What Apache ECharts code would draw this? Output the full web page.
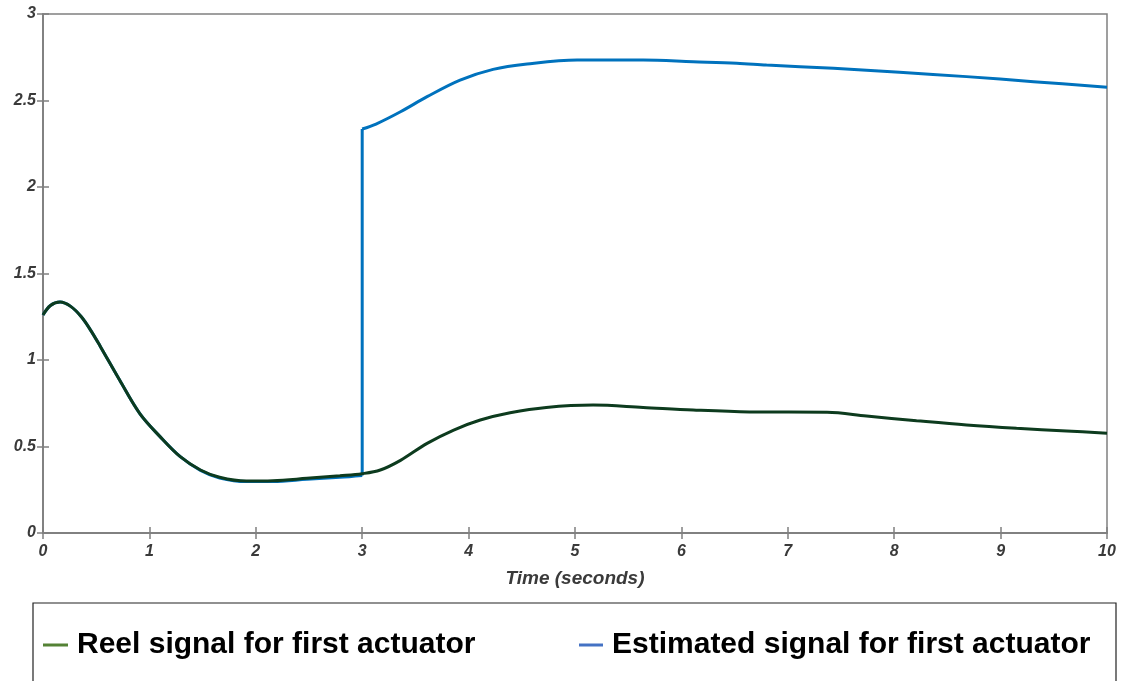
<!DOCTYPE html>
<html>
<head>
<meta charset="utf-8">
<script src="https://cdn.jsdelivr.net/npm/echarts@6/dist/echarts.min.js"></script>
<style>
html,body{margin:0;padding:0;background:#fff;}
#chart{width:1129px;height:681px;}
</style>
</head>
<body>
<div id="chart"></div>
<script>
var xTickLabels = ['0','1','2','3','4','5','6','7','8','9','10'];
var yTickLabels = ['0','0.5','1','1.5','2','2.5','3'];
var xAxisTitle = 'Time (seconds)';
var realName = 'Reel signal for first actuator';
var estName = 'Estimated signal for first actuator';

var realTime = [0, 0.07, 0.16, 0.26, 0.36, 0.45, 0.54, 0.72, 0.91, 1.10, 1.29, 1.48, 1.66, 1.91, 2.16, 2.48, 2.79, 3.0, 3.17, 3.36, 3.61, 3.86, 4.11, 4.39, 4.73, 5.17, 5.64, 6.11, 6.64, 7.37, 7.74, 8.21, 8.68, 9.15, 9.62, 10];
var realValues = [1.26, 1.315, 1.335, 1.31, 1.25, 1.17, 1.077, 0.884, 0.69, 0.557, 0.441, 0.364, 0.322, 0.30, 0.302, 0.316, 0.331, 0.343, 0.364, 0.42, 0.518, 0.595, 0.653, 0.695, 0.726, 0.74, 0.726, 0.711, 0.70, 0.698, 0.676, 0.649, 0.624, 0.605, 0.59, 0.576];

// estimated signal: before the jump, the jump itself, after the jump
var estTimeBefore = [0, 0.07, 0.16, 0.26, 0.36, 0.45, 0.54, 0.72, 0.91, 1.10, 1.29, 1.48, 1.66, 1.91, 2.16, 2.48, 2.79, 3.0];
var estValuesBefore = [1.26, 1.315, 1.335, 1.31, 1.25, 1.17, 1.077, 0.884, 0.69, 0.557, 0.441, 0.362, 0.318, 0.297, 0.298, 0.31, 0.322, 0.333];
var estTimeJump = [3.0, 3.0];
var estValuesJump = [0.333, 2.335];
var estTimeAfter = [3.0, 3.13, 3.36, 3.61, 3.92, 4.23, 4.55, 5.02, 5.64, 6.11, 6.52, 6.80, 7.43, 8.05, 8.68, 9.31, 10];
var estValuesAfter = [2.335, 2.364, 2.435, 2.522, 2.618, 2.68, 2.711, 2.734, 2.734, 2.724, 2.715, 2.705, 2.686, 2.663, 2.638, 2.609, 2.576];

function zip(a, b) { return a.map(function (v, i) { return [v, b[i]]; }); }

var tickFont = {fontFamily: 'Liberation Sans, Arial, sans-serif', fontWeight: 'bold', fontStyle: 'italic', fontSize: 16, color: '#3a3a3a'};
var axisCommon = {
  type: 'value', min: 0,
  axisLine: {show: true, lineStyle: {color: '#808080', width: 1.5}},
  axisTick: {show: true, inside: true, length: 6, lineStyle: {color: '#808080', width: 1.5}},
  splitLine: {show: false}
};
var estLine = {color: '#0072BD', width: 3};
var realLine = {color: '#0d3b1e', width: 3};
var legendText = {fontFamily: 'Liberation Sans, Arial, sans-serif', fontWeight: 'bold', fontSize: 30, color: '#000', padding: [0, 0, 0, 4]};

var chart = echarts.init(document.getElementById('chart'));
chart.setOption({
  animation: false,
  backgroundColor: '#ffffff',
  grid: {left: 43, right: 22, top: 14, bottom: 148, show: true, borderColor: '#808080', borderWidth: 1.5},
  xAxis: [
    Object.assign({}, axisCommon, {position: 'bottom', max: 10, interval: 1,
      name: xAxisTitle, nameLocation: 'middle', nameGap: 36,
      nameTextStyle: {fontFamily: 'Liberation Sans, Arial, sans-serif', fontWeight: 'bold', fontStyle: 'italic', fontSize: 19, color: '#3a3a3a'},
      axisLabel: Object.assign({margin: 11, formatter: function (v) { return xTickLabels[Math.round(v)]; }}, tickFont)}),
    Object.assign({}, axisCommon, {position: 'top', max: 10, interval: 1, axisLabel: {show: false}})
  ],
  yAxis: [
    Object.assign({}, axisCommon, {position: 'left', max: 3, interval: 0.5,
      axisLabel: Object.assign({margin: 7, formatter: function (v) { return yTickLabels[Math.round(v * 2)]; }}, tickFont)}),
    Object.assign({}, axisCommon, {position: 'right', max: 3, interval: 0.5, axisLabel: {show: false}})
  ],
  legend: [
    {left: 43, top: 630, padding: 0, icon: 'rect', itemWidth: 25, itemHeight: 3,
      data: [{name: realName, itemStyle: {color: '#548235'}}], textStyle: legendText},
    {left: 579, top: 630, padding: 0, icon: 'rect', itemWidth: 24, itemHeight: 3,
      data: [{name: estName, itemStyle: {color: '#4472C4'}}], textStyle: legendText}
  ],
  graphic: [
    {type: 'rect', shape: {x: 33, y: 603, width: 1083, height: 100}, style: {fill: 'none', stroke: '#222', lineWidth: 1.2}, silent: true, z: -1}
  ],
  series: [
    {name: estName, type: 'line', data: zip(estTimeBefore, estValuesBefore), symbol: 'none', smooth: 0.35,
      lineStyle: estLine, itemStyle: {color: '#0072BD'}, z: 2},
    {name: estName, type: 'line', data: zip(estTimeJump, estValuesJump), symbol: 'none',
      lineStyle: estLine, itemStyle: {color: '#0072BD'}, z: 2},
    {name: estName, type: 'line', data: zip(estTimeAfter, estValuesAfter), symbol: 'none', smooth: 0.35,
      lineStyle: estLine, itemStyle: {color: '#0072BD'}, z: 2},
    {name: realName, type: 'line', data: zip(realTime, realValues), symbol: 'none', smooth: 0.35,
      lineStyle: realLine, itemStyle: {color: '#0d3b1e'}, z: 3}
  ]
});
</script>
</body>
</html>
